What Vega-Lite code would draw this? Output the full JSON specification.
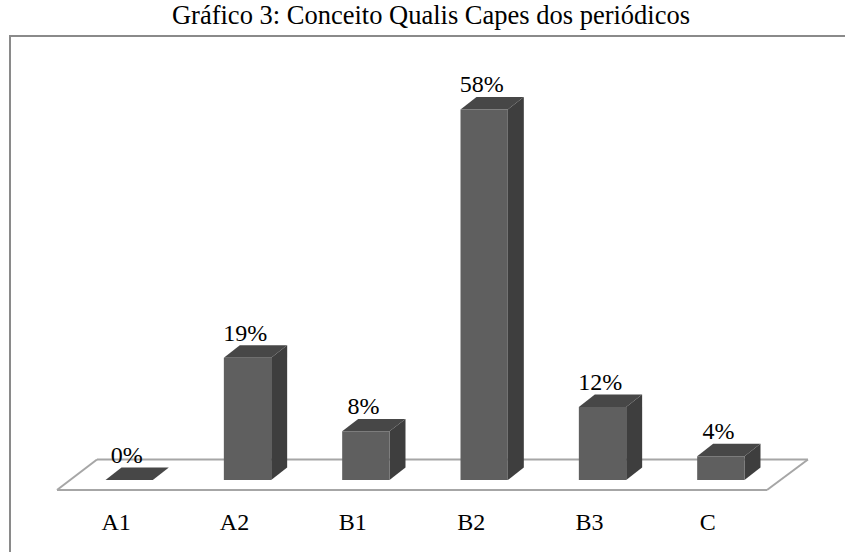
{
  "$schema": "https://vega.github.io/schema/vega-lite/v6.json",
  "width": 845,
  "height": 540,
  "autosize": {"type": "none"},
  "padding": {"left": 10, "top": 36, "right": 0, "bottom": 0},
  "background": "white",
  "config": {"view": {"stroke": "#8a8a8a", "strokeWidth": 2}},
  "title": {"text": "Gráfico 3: Conceito Qualis Capes dos periódicos", "font": "Liberation Serif", "fontSize": 26.5, "fontWeight": "normal", "color": "black", "baseline": "alphabetic", "offset": -14, "dx": -1.5, "anchor": "middle"},
  "data": {"values": [
    {"cat": "A1", "value": 0, "label": "0%"},
    {"cat": "A2", "value": 19.1, "label": "19%"},
    {"cat": "B1", "value": 7.6, "label": "8%"},
    {"cat": "B2", "value": 57.9, "label": "58%"},
    {"cat": "B3", "value": 11.4, "label": "12%"},
    {"cat": "C", "value": 3.7, "label": "4%"}
  ]},
  "transform": [
    {"window": [{"op": "row_number", "as": "rn"}]},
    {"calculate": "datum.rn - 1", "as": "i"},
    {"calculate": "datum.i + 0.41", "as": "xl"},
    {"calculate": "datum.i + 0.81", "as": "xr"},
    {"calculate": "datum.i + 0.5", "as": "xc"},
    {"calculate": "datum.i + 0.59", "as": "xlab"},
    {"calculate": "datum.value + 1.95 + 0.73", "as": "ylab"}
  ],
  "layer": [
    {
      "data": {"values": [{}]},
      "mark": {"type": "rule", "color": "#a6a6a6", "strokeWidth": 2},
      "encoding": {
        "x": {"datum": 0, "type": "quantitative", "scale": {"domain": [-0.3972, 6.7437], "nice": false, "zero": false}, "axis": null},
        "x2": {"datum": 6},
        "y": {"datum": -1.5625, "type": "quantitative", "scale": {"domain": [-15, 69.375], "nice": false, "zero": false}, "axis": null},
        "y2": {"datum": -1.5625}
      }
    },
    {
      "data": {"values": [{}]},
      "mark": {"type": "rule", "color": "#a6a6a6", "strokeWidth": 2},
      "encoding": {
        "x": {"datum": 0.338, "type": "quantitative"},
        "x2": {"datum": 6.346},
        "y": {"datum": 3.2, "type": "quantitative"},
        "y2": {"datum": 3.2}
      }
    },
    {
      "data": {"values": [{}]},
      "mark": {"type": "rule", "color": "#a6a6a6", "strokeWidth": 2},
      "encoding": {
        "x": {"datum": 0, "type": "quantitative"},
        "x2": {"datum": 0.338},
        "y": {"datum": -1.5625, "type": "quantitative"},
        "y2": {"datum": 3.2}
      }
    },
    {
      "data": {"values": [{}]},
      "mark": {"type": "rule", "color": "#a6a6a6", "strokeWidth": 2},
      "encoding": {
        "x": {"datum": 6, "type": "quantitative"},
        "x2": {"datum": 6.346},
        "y": {"datum": -1.5625, "type": "quantitative"},
        "y2": {"datum": 3.2}
      }
    },
    {
      "transform": [
        {"calculate": "0", "as": "front"},
        {"calculate": "1", "as": "back"},
        {"fold": ["front", "back"], "as": ["face", "d"]},
        {"calculate": "datum.xr + datum.d * 0.135", "as": "sx"},
        {"calculate": "datum.d * 1.95", "as": "ylo"},
        {"calculate": "datum.value + datum.d * 1.95", "as": "yhi"}
      ],
      "mark": {"type": "area", "orient": "vertical", "color": "#3e3e3e"},
      "encoding": {
        "x": {"field": "sx", "type": "quantitative"},
        "y": {"field": "yhi", "type": "quantitative"},
        "y2": {"field": "ylo"},
        "detail": {"field": "cat"}
      }
    },
    {
      "transform": [
        {"calculate": "0", "as": "front"},
        {"calculate": "1", "as": "back"},
        {"fold": ["front", "back"], "as": ["face", "d"]},
        {"calculate": "datum.xl + datum.d * 0.135", "as": "tx1"},
        {"calculate": "datum.xr + datum.d * 0.135", "as": "tx2"},
        {"calculate": "datum.value + datum.d * 1.95", "as": "ty"}
      ],
      "mark": {"type": "area", "orient": "horizontal", "color": "#474747"},
      "encoding": {
        "y": {"field": "ty", "type": "quantitative"},
        "x": {"field": "tx2", "type": "quantitative"},
        "x2": {"field": "tx1"},
        "detail": {"field": "cat"}
      }
    },
    {
      "mark": {"type": "rect", "color": "#5f5f5f"},
      "encoding": {
        "x": {"field": "xl", "type": "quantitative", "axis": {"values": [0, 1, 2, 3, 4, 5, 6], "labels": false, "domain": false, "grid": false, "ticks": true, "tickSize": 7, "tickColor": "#a6a6a6", "tickWidth": 2, "offset": -86, "title": null}},
        "x2": {"field": "xr"},
        "y": {"field": "value", "type": "quantitative"},
        "y2": {"datum": 0}
      }
    },
    {
      "mark": {"type": "text", "font": "Liberation Serif", "fontSize": 24, "color": "black", "baseline": "alphabetic", "align": "center"},
      "encoding": {
        "x": {"field": "xlab", "type": "quantitative"},
        "y": {"field": "ylab", "type": "quantitative"},
        "text": {"field": "label"}
      }
    },
    {
      "mark": {"type": "text", "font": "Liberation Serif", "fontSize": 24, "color": "black", "baseline": "alphabetic", "align": "center"},
      "encoding": {
        "x": {"field": "xc", "type": "quantitative"},
        "y": {"datum": -7.81, "type": "quantitative"},
        "text": {"field": "cat"}
      }
    }
  ]
}
